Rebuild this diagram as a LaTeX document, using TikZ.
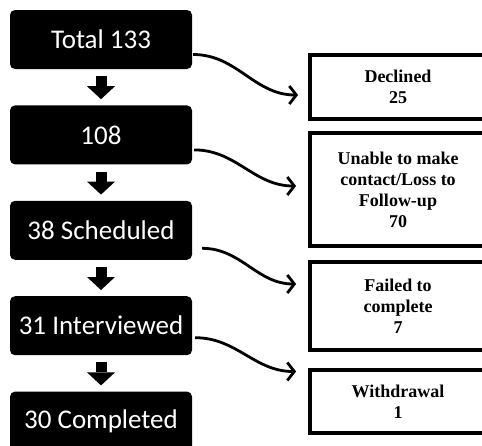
\documentclass[tikz,border=0pt]{standalone}
\usepackage{fontspec}
\setmainfont{Liberation Serif}
\newfontfamily\stagefont{Carlito}
\usetikzlibrary{arrows.meta,positioning}

\begin{document}
\begin{tikzpicture}[x=1pt, y=-1pt, node distance=36pt,
    stage/.style={fill=black, text=white, rounded corners=5pt, minimum width=182pt, minimum height=59pt, font=\stagefont\fontsize{27}{32}\selectfont},
    outcome/.style={draw, line width=3.8pt, minimum width=176pt, align=center, font=\bfseries\fontsize{18}{21}\selectfont},
    down/.style={line width=11pt, -{Triangle[width=28pt,length=13pt,line width=0pt]}},
    drop/.style={line width=2.8pt, -{Straight Barb[length=7pt,width=18pt]}, out=0, in=180}]
    \useasboundingbox[fill=white] (0,0) rectangle (482,445);
    \node[stage] (total) at (101,39.5) {Total 133};
    \node[stage,below=of total] (contacted) {108};
    \node[stage,below=of contacted] (scheduled) {38 Scheduled};
    \node[stage,below=of scheduled] (interviewed) {31 Interviewed};
    \node[stage,below=of interviewed] (completed) {30 Completed};
    \node[outcome,minimum height=64.5pt] (declined) at (398,87) {Declined\\25};
    \node[outcome,minimum height=113.5pt] (lost) at (398,189.5) {Unable to make\\contact/Loss to\\Follow-up\\70};
    \node[outcome,minimum height=88.5pt] (failed) at (398,306) {Failed to\\complete\\7};
    \node[outcome,minimum height=63.5pt] (withdrawn) at (398,401.5) {Withdrawal\\1};
    \draw[down] ([yshift=-7pt]total.south) -- ([yshift=6pt]contacted.north);
    \draw[down] ([yshift=-7pt]contacted.south) -- ([yshift=6pt]scheduled.north);
    \draw[down] ([yshift=-7pt]scheduled.south) -- ([yshift=6pt]interviewed.north);
    \draw[down] ([yshift=-7pt]interviewed.south) -- ([yshift=6pt]completed.north);
    \draw[drop] ([xshift=1pt,yshift=-15pt]total.east) to ([xshift=-10pt,yshift=-8pt]declined.west);
    \draw[drop] ([xshift=2pt,yshift=-15pt]contacted.east) to ([xshift=-12pt,yshift=3.5pt]lost.west);
    \draw[drop] ([xshift=10pt,yshift=-18pt]scheduled.east) to ([xshift=-12pt,yshift=22pt]failed.west);
    \draw[drop] ([xshift=3pt,yshift=-12pt]interviewed.east) to ([xshift=-12pt,yshift=30pt]withdrawn.west);
  \end{tikzpicture}
\end{document}
